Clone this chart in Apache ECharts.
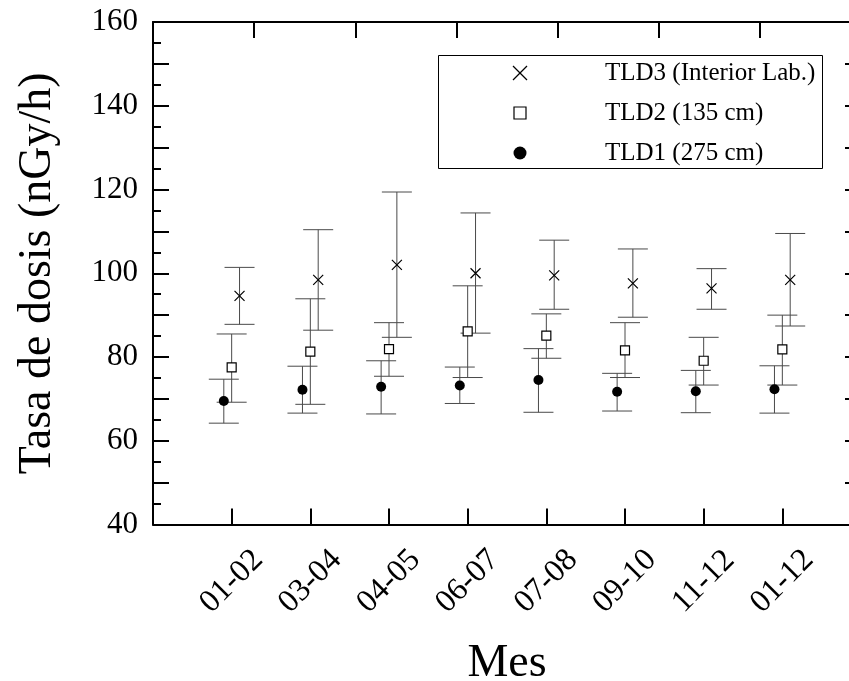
<!DOCTYPE html>
<html>
<head>
<meta charset="utf-8">
<script src="https://cdn.jsdelivr.net/npm/echarts@6/dist/echarts.min.js"></script>
<style>
html,body{margin:0;padding:0;background:#fff;}
#chart{width:849px;height:681px;}
</style>
</head>
<body>
<div id="chart"></div>
<script>
// ---- data ----
const categories = ['01-02','03-04','04-05','06-07','07-08','09-10','11-12','01-12'];
const seriesNames = ['TLD3 (Interior Lab.)','TLD2 (135 cm)','TLD1 (275 cm)'];

const tld3      = [94.6, 98.4, 102.0, 100.0, 99.5, 97.6, 96.4, 98.4];
const tld3Low   = [87.8, 86.4, 84.7, 85.7, 91.4, 89.5, 91.4, 87.4];
const tld3High  = [101.4, 110.4, 119.4, 114.4, 107.9, 105.8, 101.1, 109.5];

const tld2      = [77.5, 81.3, 81.9, 86.1, 85.1, 81.6, 79.1, 81.8];
const tld2Low   = [69.2, 68.7, 75.4, 75.1, 79.7, 75.1, 73.3, 73.3];
const tld2High  = [85.5, 93.9, 88.2, 97.0, 90.3, 88.2, 84.7, 90.0];

const tld1      = [69.5, 72.2, 72.9, 73.2, 74.5, 71.7, 71.8, 72.3];
const tld1Low   = [64.2, 66.6, 66.4, 68.9, 66.8, 67.1, 66.7, 66.6];
const tld1High  = [74.7, 77.8, 79.1, 77.6, 82.0, 76.1, 76.8, 77.9];

const yTickLabels = [40, 60, 80, 100, 120, 140, 160];

// ---- layout / style ----
const FONT = "'Liberation Serif','Times New Roman',serif";
const offsets = { tld3: 0.1, tld2: 0, tld1: -0.1 };

function pts(vals, off) { return vals.map((v, i) => [i + 1 + off, v]); }
function bars(low, high, off) { return low.map((l, i) => [i + 1 + off, l, high[i]]); }

function errorSeries(low, high, off) {
  return {
    type: 'custom',
    xAxisIndex: 0, yAxisIndex: 0,
    z: 1,
    silent: true,
    data: bars(low, high, off),
    renderItem: function (params, api) {
      const x = api.value(0);
      const top = api.coord([x, api.value(2)]);
      const bot = api.coord([x, api.value(1)]);
      const hw = 15;
      const st = { stroke: '#4a4a4a', lineWidth: 1 };
      return {
        type: 'group',
        children: [
          { type: 'line', shape: { x1: top[0], y1: top[1], x2: bot[0], y2: bot[1] }, style: st },
          { type: 'line', shape: { x1: top[0] - hw, y1: top[1], x2: top[0] + hw, y2: top[1] }, style: st },
          { type: 'line', shape: { x1: bot[0] - hw, y1: bot[1], x2: bot[0] + hw, y2: bot[1] }, style: st }
        ]
      };
    }
  };
}

// ---- legend (drawn as graphic) ----
const LEG = { x: 438, y: 55, w: 384, h: 113, iconX: 520, textX: 605, rows: [73, 113, 153] };
function legendGraphic() {
  const els = [{
    type: 'rect', shape: { x: LEG.x + 0.5, y: LEG.y + 0.5, width: LEG.w, height: LEG.h },
    style: { fill: '#fff', stroke: '#000', lineWidth: 1 }, z: 10
  }];
  const ix = LEG.iconX, r = LEG.rows;
  // X icon
  els.push({ type: 'polyline', shape: { points: [[ix - 7, r[0] - 7], [ix + 7, r[0] + 7]] }, style: { stroke: '#000', lineWidth: 1.2, fill: null }, z: 11 });
  els.push({ type: 'polyline', shape: { points: [[ix - 7, r[0] + 7], [ix + 7, r[0] - 7]] }, style: { stroke: '#000', lineWidth: 1.2, fill: null }, z: 11 });
  // square icon
  els.push({ type: 'rect', shape: { x: ix - 6, y: r[1] - 6, width: 12, height: 12 }, style: { fill: '#fff', stroke: '#000', lineWidth: 1.2 }, z: 11 });
  // circle icon
  els.push({ type: 'circle', shape: { cx: ix, cy: r[2], r: 6.5 }, style: { fill: '#000' }, z: 11 });
  seriesNames.forEach((name, i) => {
    els.push({
      type: 'text', x: LEG.textX, y: r[i], z: 11,
      style: { text: name, fontFamily: FONT, fontSize: 25, fill: '#000', verticalAlign: 'middle', align: 'left' }
    });
  });
  return els;
}

const chart = echarts.init(document.getElementById('chart'), null, { renderer: 'canvas' });

const axisLine = { show: true, onZero: false, lineStyle: { color: '#000', width: 2 } };
const majorTick = { show: true, inside: true, length: 16, lineStyle: { color: '#000', width: 2 } };
const minorTick = { show: true, splitNumber: 2, length: 8, lineStyle: { color: '#000', width: 2 } };

const option = {
  backgroundColor: '#fff',
  animation: false,
  textStyle: { fontFamily: FONT, color: '#000' },
  grid: { left: 153, top: 22, width: 708, height: 502.5, containLabel: false, outerBoundsMode: 'none' },
  graphic: legendGraphic(),
  xAxis: [
    {
      type: 'value', position: 'bottom', min: 0, max: 9, interval: 1,
      name: 'Mes', nameLocation: 'middle', nameGap: 116,
      nameTextStyle: { fontFamily: FONT, fontSize: 46, color: '#000' },
      axisLine: axisLine,
      axisTick: majorTick,
      axisLabel: {
        fontFamily: FONT, fontSize: 32, color: '#000',
        rotate: 45, margin: 57, align: 'center', verticalAlign: 'middle',
        formatter: function (v) { return (v >= 1 && v <= categories.length) ? categories[v - 1] : ''; }
      },
      splitLine: { show: false }
    },
    {
      type: 'value', position: 'top', min: 0, max: 7, interval: 1,
      axisLine: axisLine,
      axisTick: majorTick,
      axisLabel: { show: false },
      splitLine: { show: false }
    }
  ],
  yAxis: [
    {
      type: 'value', position: 'left', min: 40, max: 160, interval: 10,
      name: 'Tasa de dosis (nGy/h)', nameLocation: 'middle', nameGap: 92, nameRotate: 90,
      nameTextStyle: { fontFamily: FONT, fontSize: 46, color: '#000' },
      axisLine: axisLine,
      axisTick: majorTick,
      minorTick: minorTick,
      axisLabel: {
        fontFamily: FONT, fontSize: 31, color: '#000', margin: 15,
        formatter: function (v) { return yTickLabels.indexOf(v) >= 0 ? String(v) : ''; }
      },
      splitLine: { show: false }
    },
    {
      type: 'value', position: 'right', min: 40, max: 160, interval: 10,
      axisLine: axisLine,
      axisTick: majorTick,
      minorTick: minorTick,
      axisLabel: { show: false },
      splitLine: { show: false }
    }
  ],
  series: [
    errorSeries(tld3Low, tld3High, offsets.tld3),
    errorSeries(tld2Low, tld2High, offsets.tld2),
    errorSeries(tld1Low, tld1High, offsets.tld1),
    {
      name: seriesNames[0], type: 'scatter', z: 3,
      data: pts(tld3, offsets.tld3),
      symbol: 'path://M0,0L10,10M0,10L10,0', symbolSize: 10,
      itemStyle: { color: 'rgba(0,0,0,0)', borderColor: '#000', borderWidth: 1.2, opacity: 1 }
    },
    {
      name: seriesNames[1], type: 'scatter', z: 3,
      data: pts(tld2, offsets.tld2),
      symbol: 'path://M0,0L10,0L10,10L0,10Z', symbolSize: 9,
      itemStyle: { color: '#fff', borderColor: '#000', borderWidth: 1.2, opacity: 1 }
    },
    {
      name: seriesNames[2], type: 'scatter', z: 3,
      data: pts(tld1, offsets.tld1),
      symbol: 'circle', symbolSize: 10,
      itemStyle: { color: '#000', opacity: 1 }
    }
  ]
};

chart.setOption(option);
</script>
</body>
</html>
